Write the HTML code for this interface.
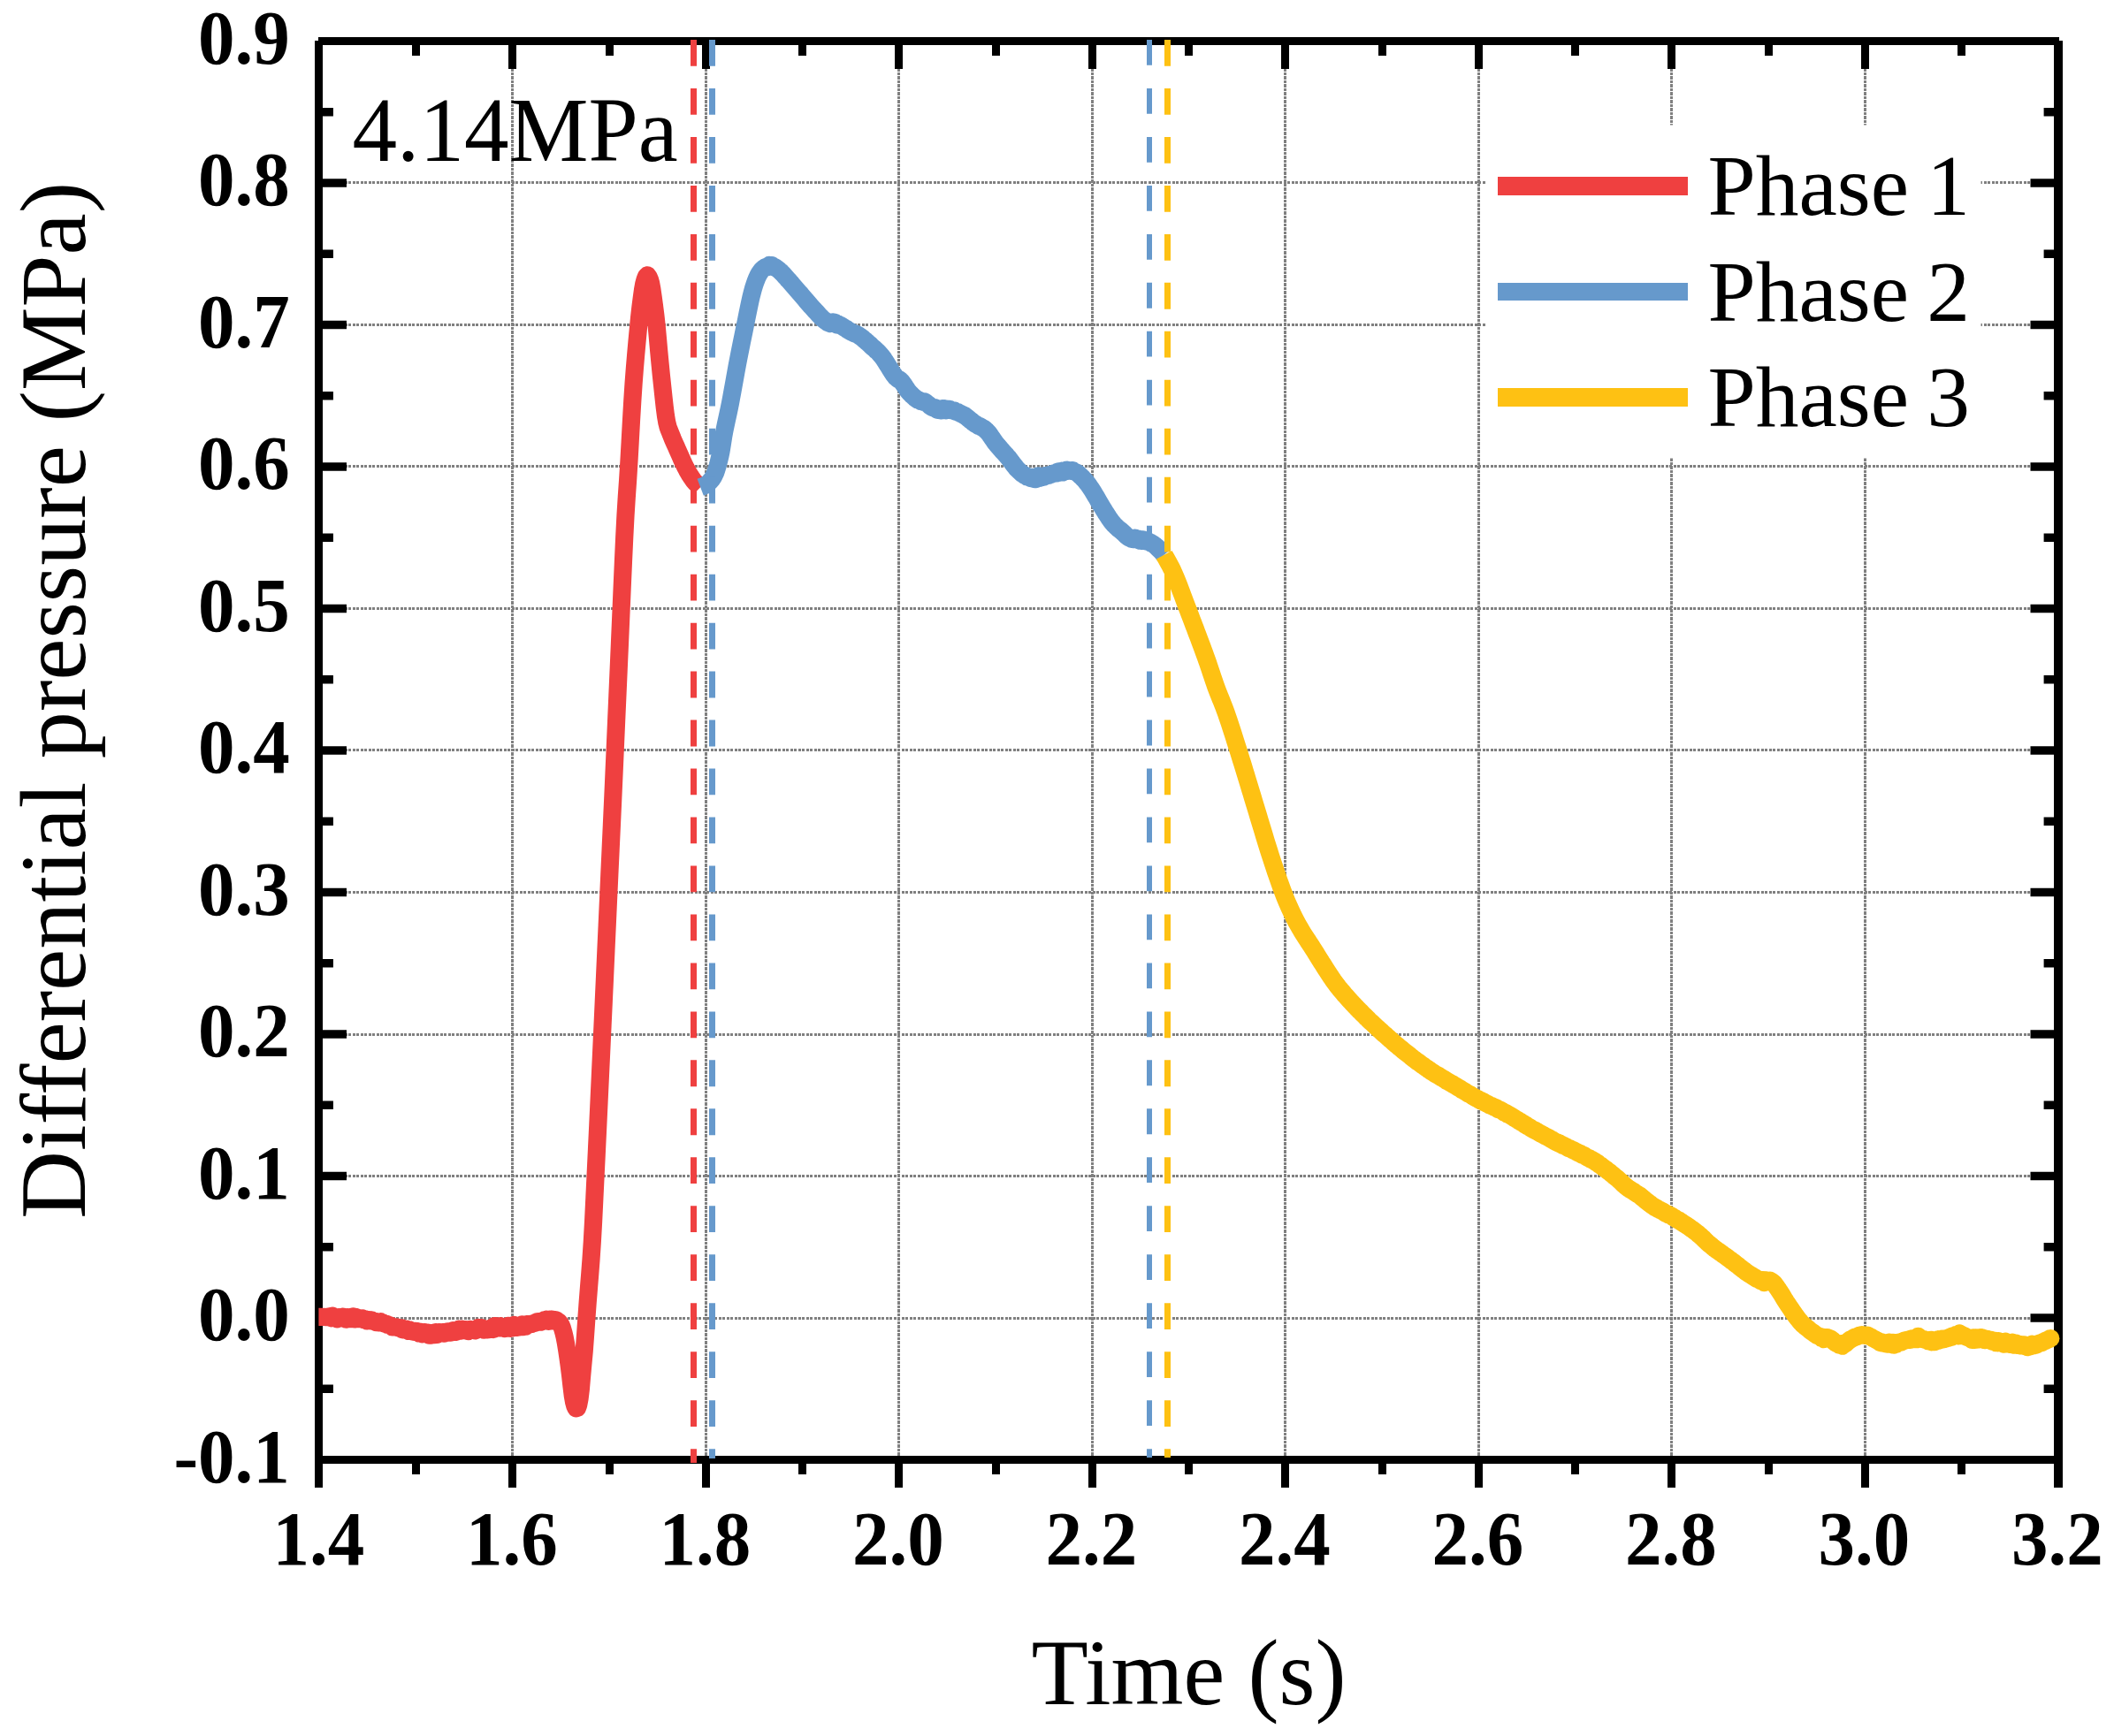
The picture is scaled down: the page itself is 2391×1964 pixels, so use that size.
<!DOCTYPE html>
<html lang="en"><head><meta charset="utf-8"><title>Differential pressure vs time</title>
<style>html,body{margin:0;padding:0;background:#fff;overflow:hidden}svg{display:block}text{font-family:"Liberation Serif",serif;fill:#000}.tk{font-weight:bold;font-size:83px}.lg{font-size:97.5px;word-spacing:-4px}.an{font-size:101.2px}.ax{font-size:106.3px}.ax2{font-size:105.3px}</style></head><body>
<svg width="2391" height="1964" viewBox="0 0 2391 1964">
<rect width="2391" height="1964" fill="#fff"/>
<path d="M392 1491.5H2297M392 1330.5H2297M392 1170.5H2297M392 1009.5H2297M392 848.5H2297M392 688.5H2297M392 527.5H2297M392 367.5H2297M392 206.5H2297" fill="none" stroke="#808080" stroke-width="3" stroke-dasharray="3 2 3 1" stroke-dashoffset="7"/>
<path d="M579.5 78V1647M798.5 78V1647M1016.5 78V1647M1235.5 78V1647M1453.5 78V1647M1672.5 78V1647M1890.5 78V1647M2109.5 78V1647" fill="none" stroke="#808080" stroke-width="3" stroke-dasharray="4 1 3 1" stroke-dashoffset="1"/>
<rect x="1680" y="141.5" width="560.5" height="377" fill="#fff"/>
<path d="M360 46.5H2329M360 1651.5H2329M360.5 46V1683M470.5 1651.5v16.4M470.5 46.5v16.4M579.5 1651.5v31.5M579.5 46.5v31.5M689.5 1651.5v16.4M689.5 46.5v16.4M798.5 1651.5v31.5M798.5 46.5v31.5M907.5 1651.5v16.4M907.5 46.5v16.4M1016.5 1651.5v31.5M1016.5 46.5v31.5M1126.5 1651.5v16.4M1126.5 46.5v16.4M1235.5 1651.5v31.5M1235.5 46.5v31.5M1344.5 1651.5v16.4M1344.5 46.5v16.4M1453.5 1651.5v31.5M1453.5 46.5v31.5M1563.5 1651.5v16.4M1563.5 46.5v16.4M1672.5 1651.5v31.5M1672.5 46.5v31.5M1781.5 1651.5v16.4M1781.5 46.5v16.4M1890.5 1651.5v31.5M1890.5 46.5v31.5M2000.5 1651.5v16.4M2000.5 46.5v16.4M2109.5 1651.5v31.5M2109.5 46.5v31.5M2218.5 1651.5v16.4M2218.5 46.5v16.4" fill="none" stroke="#000" stroke-width="9"/>
<path d="M360.5 1571.25h16.4M2328.0 1571.25h-16.4M360.5 1491.00h31.5M2328.0 1491.00h-31.5M360.5 1410.75h16.4M2328.0 1410.75h-16.4M360.5 1330.50h31.5M2328.0 1330.50h-31.5M360.5 1250.25h16.4M2328.0 1250.25h-16.4M360.5 1170.00h31.5M2328.0 1170.00h-31.5M360.5 1089.75h16.4M2328.0 1089.75h-16.4M360.5 1009.50h31.5M2328.0 1009.50h-31.5M360.5 929.25h16.4M2328.0 929.25h-16.4M360.5 849.00h31.5M2328.0 849.00h-31.5M360.5 768.75h16.4M2328.0 768.75h-16.4M360.5 688.50h31.5M2328.0 688.50h-31.5M360.5 608.25h16.4M2328.0 608.25h-16.4M360.5 528.00h31.5M2328.0 528.00h-31.5M360.5 447.75h16.4M2328.0 447.75h-16.4M360.5 367.50h31.5M2328.0 367.50h-31.5M360.5 287.25h16.4M2328.0 287.25h-16.4M360.5 207.00h31.5M2328.0 207.00h-31.5M360.5 126.75h16.4M2328.0 126.75h-16.4" fill="none" stroke="#000" stroke-width="9.5"/>
<path d="M2328.0 46V1683" fill="none" stroke="#000" stroke-width="10"/>
<path d="M360.4 1489.9L361.7 1489.9 363.0 1489.9 364.3 1489.9 365.6 1489.8 366.9 1490.0 368.2 1490.0 369.5 1490.2 370.8 1489.7 372.1 1489.3 373.4 1489.6 374.7 1491.3 376.0 1488.7 377.3 1489.3 378.6 1490.8 379.9 1491.4 381.2 1492.3 382.5 1491.6 383.8 1490.2 385.1 1490.6 386.4 1491.0 387.7 1489.5 389.0 1491.5 390.3 1491.6 391.6 1492.7 392.9 1490.1 394.2 1490.7 395.5 1491.8 396.8 1492.0 398.1 1489.9 399.4 1489.4 400.7 1492.4 402.0 1489.8 403.3 1491.9 404.6 1490.9 405.9 1492.1 407.2 1492.1 408.5 1491.9 409.8 1491.5 411.1 1493.0 412.4 1493.4 413.7 1492.5 415.0 1494.4 416.3 1494.3 417.6 1493.4 418.9 1494.4 420.2 1493.3 421.5 1494.6 422.8 1494.8 424.1 1495.3 425.4 1496.0 426.7 1495.2 428.0 1496.4 429.3 1496.2 430.6 1495.4 431.9 1496.4 433.2 1496.4 434.5 1497.4 435.8 1497.6 437.1 1497.9 438.4 1499.0 439.7 1499.0 441.0 1499.4 442.3 1500.0 443.6 1501.3 444.9 1501.2 446.2 1501.4 447.5 1501.5 448.8 1501.3 450.1 1502.3 451.4 1502.3 452.7 1502.7 454.0 1502.5 455.3 1504.4 456.6 1504.4 457.9 1503.9 459.2 1504.5 460.5 1503.6 461.8 1505.9 463.1 1504.4 464.4 1505.1 465.7 1506.2 467.0 1506.4 468.3 1506.9 469.6 1505.9 470.9 1507.2 472.2 1506.1 473.5 1508.4 474.8 1506.5 476.1 1507.1 477.4 1509.3 478.7 1508.8 480.0 1507.2 481.3 1507.9 482.6 1509.3 483.9 1507.7 485.2 1510.7 486.5 1508.8 487.8 1510.7 489.1 1509.1 490.4 1507.7 491.7 1510.1 493.0 1507.1 494.3 1509.8 495.6 1507.9 496.9 1507.2 498.2 1507.4 499.5 1508.0 500.8 1507.1 502.1 1508.6 503.4 1508.3 504.7 1506.9 506.0 1506.5 507.3 1507.5 508.6 1507.1 509.9 1507.6 511.2 1505.7 512.5 1505.2 513.8 1506.1 515.1 1507.0 516.4 1505.3 517.7 1505.0 519.0 1503.8 520.3 1504.3 521.6 1505.7 522.9 1503.7 524.2 1504.1 525.5 1504.2 526.8 1504.0 528.1 1505.5 529.4 1506.0 530.7 1504.7 532.0 1504.0 533.3 1504.4 534.6 1504.5 535.9 1504.9 537.2 1505.4 538.5 1503.4 539.8 1503.1 541.1 1501.8 542.4 1503.2 543.7 1503.2 545.0 1502.0 546.3 1503.7 547.6 1504.6 548.9 1504.0 550.2 1504.5 551.5 1504.3 552.8 1504.2 554.1 1503.1 555.4 1502.4 556.7 1502.8 558.0 1504.1 559.3 1500.3 560.6 1500.1 561.9 1501.2 563.2 1502.4 564.5 1502.5 565.8 1500.2 567.1 1502.2 568.4 1502.0 569.7 1502.5 571.0 1503.2 572.3 1502.8 573.6 1500.5 574.9 1499.8 576.2 1502.2 577.5 1502.8 578.8 1501.4 580.1 1502.5 581.4 1499.0 582.7 1501.7 584.0 1501.1 585.3 1501.8 586.6 1499.8 587.9 1501.4 589.2 1499.3 590.5 1498.4 591.8 1501.2 593.1 1500.3 594.4 1500.5 595.7 1498.3 597.0 1498.1 598.3 1498.0 599.6 1498.2 600.9 1498.2 602.2 1497.2 603.5 1497.1 604.8 1497.2 606.1 1495.9 607.4 1495.3 608.7 1495.0 610.0 1495.7 611.3 1495.7 612.6 1495.2 613.9 1494.3 615.2 1493.6 616.5 1494.5 617.8 1492.7 619.1 1494.5 620.4 1494.9 621.7 1492.7 623.0 1494.1 624.3 1492.6 625.6 1494.2 626.9 1493.7 628.2 1493.2 629.5 1493.6 630.8 1494.7 632.1 1495.6 633.4 1497.1 634.7 1499.3 636.0 1502.7 637.3 1507.2 638.6 1512.6 639.9 1519.4 641.2 1527.5 642.5 1536.3 643.8 1545.7 645.1 1555.9 646.4 1567.7 647.7 1578.4 649.0 1585.8 650.3 1590.7 651.6 1593.4 652.9 1592.9 654.2 1589.4 655.5 1582.7 656.8 1572.1 658.1 1557.0 659.4 1542.7 660.7 1528.7 662.0 1511.3 663.3 1492.5 664.6 1474.4 665.9 1457.9 667.2 1441.8 668.5 1424.8 669.8 1405.1 671.1 1381.6 672.4 1354.7 673.7 1327.5 675.0 1300.3 676.3 1272.7 677.6 1244.9 678.9 1217.0 680.2 1189.0 681.5 1160.8 682.8 1132.5 684.1 1104.0 685.4 1075.3 686.7 1046.7 688.0 1018.1 689.3 989.7 690.6 961.5 691.9 933.2 693.2 904.5 694.5 875.3 695.8 845.8 697.1 816.1 698.4 786.5 699.7 756.8 701.0 727.0 702.3 696.6 703.6 666.2 704.9 636.5 706.2 608.2 707.5 583.0 708.8 562.2 710.1 543.4 711.4 522.7 712.7 499.5 714.0 475.8 715.3 453.3 716.6 433.5 717.9 416.5 719.2 401.0 720.5 386.5 721.8 372.6 723.1 359.1 724.4 347.5 725.7 337.6 727.0 328.1 728.3 320.9 729.6 316.1 730.9 313.0 732.2 311.3 733.5 313.1 734.8 315.9 736.1 320.4 737.4 327.4 738.7 336.4 740.0 346.0 741.3 356.2 742.6 368.0 743.9 382.4 745.2 397.1 746.5 410.7 747.8 423.9 749.1 436.3 750.4 448.5 751.7 460.3 753.0 470.5 754.3 478.1 755.6 483.2 756.9 486.7 758.2 489.8 759.5 493.2 760.8 496.4 762.1 499.4 763.4 502.3 764.7 505.2 766.0 508.2 767.3 511.1 768.6 514.1 769.9 517.1 771.2 520.0 772.5 522.8 773.8 525.6 775.1 528.2 776.4 530.7 777.7 533.1 779.0 535.3 780.3 537.5 781.6 539.5 782.9 541.4 784.2 543.3 785.5 544.9 786.8 546.4 788.1 547.7 789.4 549.0 790.7 550.2 792.0 551.5 792.0 551.5" fill="none" stroke="#EF4040" stroke-width="20.2" stroke-linejoin="round" stroke-linecap="butt"/>
<path d="M792.2 551.3L793.5 550.8 794.8 550.3 796.1 549.7 797.4 549.1 798.7 548.4 800.0 547.5 801.3 546.4 802.6 545.0 803.9 543.7 805.2 542.0 806.5 540.1 807.8 537.7 809.1 534.8 810.4 531.1 811.7 526.8 813.0 521.8 814.3 516.4 815.6 510.1 816.9 502.2 818.2 493.8 819.5 486.7 820.8 480.4 822.1 474.4 823.4 468.5 824.7 462.4 826.0 455.9 827.3 449.0 828.6 441.9 829.9 434.7 831.2 427.4 832.5 420.2 833.8 413.1 835.1 406.3 836.4 399.7 837.7 393.2 839.0 386.8 840.3 380.4 841.6 374.1 842.9 367.7 844.2 361.3 845.5 354.8 846.8 348.4 848.1 342.2 849.4 336.4 850.7 331.2 852.0 326.4 853.3 322.3 854.6 318.5 855.9 315.2 857.2 312.3 858.5 309.9 859.8 307.8 861.1 306.1 862.4 304.7 863.7 303.6 865.0 302.7 866.3 301.9 867.6 302.2 868.9 301.0 870.2 299.9 871.5 300.3 872.8 300.1 874.1 301.7 875.4 302.2 876.7 302.3 878.0 303.2 879.3 304.2 880.6 305.2 881.9 306.4 883.2 307.5 884.5 308.8 885.8 310.2 887.1 311.6 888.4 313.1 889.7 314.5 891.0 316.1 892.3 317.4 893.6 319.0 894.9 320.4 896.2 322.0 897.5 323.5 898.8 325.0 900.1 326.5 901.4 328.0 902.7 329.5 904.0 331.0 905.3 332.4 906.6 334.0 907.9 335.5 909.2 337.0 910.5 338.5 911.8 340.1 913.1 341.6 914.4 343.1 915.7 344.6 917.0 346.1 918.3 347.5 919.6 349.0 920.9 350.4 922.2 351.9 923.5 353.2 924.8 354.6 926.1 356.1 927.4 357.5 928.7 358.9 930.0 360.2 931.3 361.2 932.6 362.2 933.9 363.3 935.2 363.7 936.5 365.0 937.8 365.6 939.1 366.0 940.4 364.9 941.7 364.4 943.0 365.8 944.3 364.8 945.6 367.1 946.9 367.5 948.2 366.7 949.5 367.7 950.8 368.0 952.1 368.9 953.4 369.8 954.7 370.5 956.0 371.3 957.3 371.9 958.6 373.1 959.9 373.9 961.2 374.7 962.5 375.2 963.8 376.1 965.1 376.6 966.4 377.3 967.7 377.6 969.0 378.2 970.3 378.9 971.6 379.7 972.9 380.6 974.2 381.5 975.5 382.5 976.8 383.7 978.1 384.7 979.4 385.8 980.7 387.0 982.0 388.2 983.3 389.2 984.6 390.5 985.9 391.8 987.2 393.0 988.5 394.0 989.8 395.2 991.1 396.5 992.4 397.5 993.7 398.9 995.0 400.3 996.3 401.8 997.6 403.4 998.9 405.1 1000.2 407.1 1001.5 409.0 1002.8 411.1 1004.1 413.2 1005.4 415.3 1006.7 417.4 1008.0 419.5 1009.3 421.5 1010.6 423.5 1011.9 425.2 1013.2 426.8 1014.5 427.9 1015.8 429.1 1017.1 429.4 1018.4 430.3 1019.7 431.6 1021.0 433.3 1022.3 435.1 1023.6 437.2 1024.9 439.1 1026.2 441.1 1027.5 442.8 1028.8 444.3 1030.1 445.7 1031.4 447.0 1032.7 448.2 1034.0 449.2 1035.3 450.5 1036.6 451.5 1037.9 452.3 1039.2 452.5 1040.5 453.3 1041.8 454.1 1043.1 454.3 1044.4 454.9 1045.7 454.4 1047.0 455.1 1048.3 456.3 1049.6 457.2 1050.9 458.2 1052.2 459.5 1053.5 460.3 1054.8 461.0 1056.1 461.6 1057.4 461.2 1058.7 461.5 1060.0 463.7 1061.3 464.0 1062.6 463.6 1063.9 464.5 1065.2 462.8 1066.5 462.1 1067.8 464.2 1069.1 462.4 1070.4 464.2 1071.7 463.8 1073.0 463.0 1074.3 462.8 1075.6 464.0 1076.9 464.3 1078.2 464.4 1079.5 464.6 1080.8 465.7 1082.1 466.0 1083.4 466.2 1084.7 467.1 1086.0 467.6 1087.3 468.3 1088.6 468.9 1089.9 469.7 1091.2 470.2 1092.5 471.2 1093.8 472.2 1095.1 473.4 1096.4 474.3 1097.7 475.5 1099.0 476.4 1100.3 477.6 1101.6 478.5 1102.9 479.5 1104.2 480.2 1105.5 481.0 1106.8 481.9 1108.1 482.0 1109.4 482.9 1110.7 483.7 1112.0 484.4 1113.3 485.2 1114.6 486.3 1115.9 487.5 1117.2 488.9 1118.5 490.4 1119.8 492.2 1121.1 494.1 1122.4 496.0 1123.7 497.9 1125.0 499.8 1126.3 501.5 1127.6 503.1 1128.9 504.7 1130.2 506.2 1131.5 507.7 1132.8 509.1 1134.1 510.6 1135.4 512.0 1136.7 513.5 1138.0 514.9 1139.3 516.5 1140.6 517.9 1141.9 519.6 1143.2 521.3 1144.5 523.1 1145.8 524.8 1147.1 526.5 1148.4 528.2 1149.7 529.8 1151.0 531.1 1152.3 532.3 1153.6 533.7 1154.9 534.9 1156.2 535.9 1157.5 536.6 1158.8 537.8 1160.1 538.1 1161.4 539.4 1162.7 539.1 1164.0 539.7 1165.3 540.9 1166.6 541.2 1167.9 539.9 1169.2 540.8 1170.5 542.2 1171.8 542.0 1173.1 541.2 1174.4 538.3 1175.7 540.9 1177.0 539.7 1178.3 540.1 1179.6 538.7 1180.9 539.4 1182.2 538.5 1183.5 537.9 1184.8 537.7 1186.1 537.9 1187.4 537.0 1188.7 536.8 1190.0 536.1 1191.3 535.8 1192.6 535.2 1193.9 535.1 1195.2 535.3 1196.5 533.6 1197.8 534.7 1199.1 534.2 1200.4 532.7 1201.7 534.5 1203.0 533.8 1204.3 533.4 1205.6 531.9 1206.9 531.6 1208.2 532.8 1209.5 532.7 1210.8 532.8 1212.1 532.1 1213.4 532.3 1214.7 533.5 1216.0 533.8 1217.3 534.5 1218.6 535.2 1219.9 536.3 1221.2 537.5 1222.5 538.8 1223.8 539.9 1225.1 541.3 1226.4 542.6 1227.7 544.2 1229.0 545.8 1230.3 547.4 1231.6 549.2 1232.9 551.1 1234.2 553.0 1235.5 555.0 1236.8 557.1 1238.1 559.3 1239.4 561.5 1240.7 563.7 1242.0 566.0 1243.3 568.3 1244.6 570.5 1245.9 572.7 1247.2 574.8 1248.5 576.9 1249.8 579.0 1251.1 581.1 1252.4 583.1 1253.7 585.1 1255.0 587.0 1256.3 588.9 1257.6 590.6 1258.9 592.2 1260.2 593.7 1261.5 594.9 1262.8 596.2 1264.1 597.4 1265.4 598.4 1266.7 599.4 1268.0 600.5 1269.3 601.6 1270.6 602.9 1271.9 604.0 1273.2 605.4 1274.5 606.6 1275.8 607.6 1277.1 608.3 1278.4 608.7 1279.7 609.8 1281.0 609.6 1282.3 610.0 1283.6 608.5 1284.9 610.2 1286.2 610.5 1287.5 609.7 1288.8 611.7 1290.1 610.4 1291.4 612.0 1292.7 610.3 1294.0 611.8 1295.3 612.1 1296.6 612.4 1297.9 612.5 1299.2 612.7 1300.5 613.6 1301.8 614.0 1303.1 614.8 1304.4 615.7 1305.7 616.5 1307.0 617.6 1308.3 618.7 1309.6 620.0 1310.9 621.3 1312.2 622.6 1313.5 624.0 1314.8 625.5 1316.1 627.1 1316.7 627.8" fill="none" stroke="#6699CC" stroke-width="20.2" stroke-linejoin="round" stroke-linecap="butt"/>
<path d="M1316.7 627.8L1318.0 630.2 1319.3 632.4 1320.6 634.7 1321.9 637.1 1323.2 639.5 1324.5 642.0 1325.8 644.6 1327.1 647.4 1328.4 650.3 1329.7 653.4 1331.0 656.6 1332.3 659.8 1333.6 663.2 1334.9 666.6 1336.2 670.1 1337.5 673.5 1338.8 677.0 1340.1 680.5 1341.4 683.9 1342.7 687.3 1344.0 690.7 1345.3 694.1 1346.6 697.6 1347.9 701.0 1349.2 704.4 1350.5 707.8 1351.8 711.2 1353.1 714.7 1354.4 718.1 1355.7 721.5 1357.0 725.0 1358.3 728.5 1359.6 731.9 1360.9 735.4 1362.2 739.0 1363.5 742.6 1364.8 746.2 1366.1 749.9 1367.4 753.7 1368.7 757.6 1370.0 761.5 1371.3 765.4 1372.6 769.3 1373.9 773.1 1375.2 776.7 1376.5 780.2 1377.8 783.6 1379.1 786.9 1380.4 790.1 1381.7 793.3 1383.0 796.6 1384.3 799.9 1385.6 803.3 1386.9 806.9 1388.2 810.7 1389.5 814.5 1390.8 818.4 1392.1 822.4 1393.4 826.4 1394.7 830.4 1396.0 834.5 1397.3 838.7 1398.6 842.8 1399.9 846.9 1401.2 851.0 1402.5 855.2 1403.8 859.4 1405.1 863.6 1406.4 867.8 1407.7 872.1 1409.0 876.3 1410.3 880.6 1411.6 884.9 1412.9 889.2 1414.2 893.4 1415.5 897.7 1416.8 902.0 1418.1 906.3 1419.4 910.6 1420.7 914.9 1422.0 919.2 1423.3 923.5 1424.6 927.8 1425.9 932.1 1427.2 936.4 1428.5 940.7 1429.8 945.0 1431.1 949.3 1432.4 953.6 1433.7 957.8 1435.0 961.9 1436.3 966.0 1437.6 970.0 1438.9 974.0 1440.2 977.9 1441.5 981.8 1442.8 985.7 1444.1 989.5 1445.4 993.3 1446.7 997.0 1448.0 1000.7 1449.3 1004.3 1450.6 1007.8 1451.9 1011.2 1453.2 1014.5 1454.5 1017.7 1455.8 1020.8 1457.1 1023.8 1458.4 1026.8 1459.7 1029.6 1461.0 1032.3 1462.3 1035.1 1463.6 1037.7 1464.9 1040.3 1466.2 1042.8 1467.5 1045.1 1468.8 1047.4 1470.1 1049.6 1471.4 1051.9 1472.7 1054.1 1474.0 1056.2 1475.3 1058.3 1476.6 1060.3 1477.9 1062.3 1479.2 1064.3 1480.5 1066.2 1481.8 1068.2 1483.1 1070.1 1484.4 1072.2 1485.7 1074.2 1487.0 1076.3 1488.3 1078.4 1489.6 1080.5 1490.9 1082.7 1492.2 1084.8 1493.5 1086.8 1494.8 1088.9 1496.1 1090.8 1497.4 1092.9 1498.7 1094.9 1500.0 1096.9 1501.3 1099.0 1502.6 1101.0 1503.9 1103.0 1505.2 1105.0 1506.5 1106.9 1507.8 1108.8 1509.1 1110.6 1510.4 1112.4 1511.7 1114.2 1513.0 1115.9 1514.3 1117.5 1515.6 1119.1 1516.9 1120.6 1518.2 1122.2 1519.5 1123.7 1520.8 1125.3 1522.1 1126.7 1523.4 1128.2 1524.7 1129.7 1526.0 1131.2 1527.3 1132.5 1528.6 1133.9 1529.9 1135.4 1531.2 1136.7 1532.5 1138.1 1533.8 1139.4 1535.1 1140.8 1536.4 1142.2 1537.7 1143.5 1539.0 1144.7 1540.3 1146.1 1541.6 1147.4 1542.9 1148.6 1544.2 1149.9 1545.5 1151.3 1546.8 1152.4 1548.1 1153.8 1549.4 1155.1 1550.7 1156.3 1552.0 1157.4 1553.3 1158.7 1554.6 1159.9 1555.9 1161.1 1557.2 1162.3 1558.5 1163.5 1559.8 1164.8 1561.1 1165.8 1562.4 1167.0 1563.7 1168.3 1565.0 1169.5 1566.3 1170.6 1567.6 1171.6 1568.9 1172.9 1570.2 1174.0 1571.5 1175.2 1572.8 1176.3 1574.1 1177.4 1575.4 1178.6 1576.7 1179.8 1578.0 1180.9 1579.3 1181.9 1580.6 1183.0 1581.9 1184.2 1583.2 1185.3 1584.5 1186.2 1585.8 1187.3 1587.1 1188.5 1588.4 1189.6 1589.7 1190.5 1591.0 1191.6 1592.3 1192.6 1593.6 1193.6 1594.9 1194.6 1596.2 1195.7 1597.5 1196.8 1598.8 1197.9 1600.1 1198.6 1601.4 1199.7 1602.7 1200.8 1604.0 1201.5 1605.3 1202.4 1606.6 1203.4 1607.9 1204.4 1609.2 1205.4 1610.5 1206.2 1611.8 1207.2 1613.1 1208.1 1614.4 1208.9 1615.7 1210.0 1617.0 1210.7 1618.3 1211.8 1619.6 1212.6 1620.9 1213.4 1622.2 1214.3 1623.5 1215.1 1624.8 1215.9 1626.1 1216.5 1627.4 1217.2 1628.7 1218.1 1630.0 1219.0 1631.3 1219.7 1632.6 1220.3 1633.9 1221.3 1635.2 1221.9 1636.5 1223.0 1637.8 1223.7 1639.1 1224.4 1640.4 1225.1 1641.7 1225.8 1643.0 1226.4 1644.3 1227.4 1645.6 1228.1 1646.9 1228.8 1648.2 1229.9 1649.5 1230.5 1650.8 1231.1 1652.1 1231.8 1653.4 1233.0 1654.7 1233.7 1656.0 1234.4 1657.3 1235.2 1658.6 1236.0 1659.9 1236.8 1661.2 1237.6 1662.5 1238.1 1663.8 1239.1 1665.1 1239.6 1666.4 1240.7 1667.7 1241.5 1669.0 1242.0 1670.3 1242.8 1671.6 1243.2 1672.9 1244.4 1674.2 1245.0 1675.5 1245.2 1676.8 1246.1 1678.1 1246.5 1679.4 1247.5 1680.7 1248.2 1682.0 1248.7 1683.3 1249.4 1684.6 1250.3 1685.9 1250.9 1687.2 1251.0 1688.5 1251.9 1689.8 1252.5 1691.1 1252.8 1692.4 1253.4 1693.7 1254.6 1695.0 1255.3 1696.3 1255.4 1697.6 1256.1 1698.9 1256.8 1700.2 1257.7 1701.5 1258.6 1702.8 1258.9 1704.1 1259.6 1705.4 1260.7 1706.7 1261.1 1708.0 1261.8 1709.3 1262.6 1710.6 1263.5 1711.9 1264.1 1713.2 1265.2 1714.5 1266.0 1715.8 1266.6 1717.1 1267.6 1718.4 1268.4 1719.7 1268.9 1721.0 1269.9 1722.3 1270.6 1723.6 1271.4 1724.9 1272.5 1726.2 1273.0 1727.5 1274.0 1728.8 1274.6 1730.1 1275.3 1731.4 1276.4 1732.7 1277.1 1734.0 1277.8 1735.3 1278.5 1736.6 1279.0 1737.9 1279.9 1739.2 1280.5 1740.5 1281.3 1741.8 1282.2 1743.1 1282.7 1744.4 1283.3 1745.7 1284.2 1747.0 1284.9 1748.3 1285.6 1749.6 1286.2 1750.9 1286.9 1752.2 1287.5 1753.5 1288.4 1754.8 1289.3 1756.1 1289.7 1757.4 1290.6 1758.7 1291.4 1760.0 1292.1 1761.3 1292.5 1762.6 1293.4 1763.9 1293.6 1765.2 1294.5 1766.5 1295.0 1767.8 1295.9 1769.1 1296.2 1770.4 1296.8 1771.7 1297.5 1773.0 1298.3 1774.3 1299.1 1775.6 1299.4 1776.9 1300.2 1778.2 1300.8 1779.5 1301.1 1780.8 1302.1 1782.1 1302.7 1783.4 1303.2 1784.7 1304.3 1786.0 1304.3 1787.3 1305.0 1788.6 1306.2 1789.9 1306.8 1791.2 1306.9 1792.5 1307.7 1793.8 1308.6 1795.1 1309.3 1796.4 1310.0 1797.7 1310.5 1799.0 1311.5 1800.3 1311.8 1801.6 1312.9 1802.9 1313.4 1804.2 1314.2 1805.5 1315.3 1806.8 1315.8 1808.1 1316.9 1809.4 1317.9 1810.7 1318.6 1812.0 1319.7 1813.3 1320.7 1814.6 1321.7 1815.9 1322.6 1817.2 1323.6 1818.5 1324.7 1819.8 1325.6 1821.1 1326.6 1822.4 1327.8 1823.7 1328.8 1825.0 1329.8 1826.3 1331.0 1827.6 1332.0 1828.9 1333.0 1830.2 1334.2 1831.5 1335.4 1832.8 1336.5 1834.1 1337.7 1835.4 1339.1 1836.7 1340.3 1838.0 1341.4 1839.3 1342.4 1840.6 1343.5 1841.9 1344.5 1843.2 1345.1 1844.5 1346.2 1845.8 1347.0 1847.1 1347.6 1848.4 1348.6 1849.7 1349.5 1851.0 1350.3 1852.3 1351.2 1853.6 1351.8 1854.9 1352.9 1856.2 1353.8 1857.5 1355.0 1858.8 1356.0 1860.1 1357.1 1861.4 1358.2 1862.7 1359.2 1864.0 1360.3 1865.3 1361.4 1866.6 1362.2 1867.9 1363.4 1869.2 1364.1 1870.5 1365.1 1871.8 1366.1 1873.1 1366.5 1874.4 1367.2 1875.7 1368.1 1877.0 1368.6 1878.3 1369.4 1879.6 1369.9 1880.9 1370.6 1882.2 1371.5 1883.5 1372.5 1884.8 1373.0 1886.1 1373.5 1887.4 1374.4 1888.7 1374.7 1890.0 1375.4 1891.3 1376.2 1892.6 1377.2 1893.9 1377.7 1895.2 1378.5 1896.5 1379.6 1897.8 1380.3 1899.1 1380.8 1900.4 1381.8 1901.7 1382.5 1903.0 1383.6 1904.3 1384.2 1905.6 1385.1 1906.9 1386.0 1908.2 1386.7 1909.5 1387.6 1910.8 1388.6 1912.1 1389.6 1913.4 1390.4 1914.7 1391.3 1916.0 1392.4 1917.3 1393.3 1918.6 1394.3 1919.9 1395.2 1921.2 1396.5 1922.5 1397.6 1923.8 1398.6 1925.1 1399.9 1926.4 1401.0 1927.7 1402.3 1929.0 1403.7 1930.3 1404.9 1931.6 1406.1 1932.9 1407.2 1934.2 1408.3 1935.5 1409.3 1936.8 1410.4 1938.1 1411.4 1939.4 1412.6 1940.7 1413.4 1942.0 1414.5 1943.3 1415.3 1944.6 1416.1 1945.9 1417.2 1947.2 1418.0 1948.5 1419.1 1949.8 1420.0 1951.1 1420.8 1952.4 1421.9 1953.7 1422.7 1955.0 1423.8 1956.3 1424.7 1957.6 1425.6 1958.9 1426.7 1960.2 1427.5 1961.5 1428.5 1962.8 1429.8 1964.1 1430.7 1965.4 1431.5 1966.7 1432.7 1968.0 1433.7 1969.3 1434.7 1970.6 1435.7 1971.9 1436.7 1973.2 1437.6 1974.5 1438.7 1975.8 1439.7 1977.1 1440.5 1978.4 1441.4 1979.7 1442.1 1981.0 1443.0 1982.3 1443.7 1983.6 1444.7 1984.9 1445.2 1986.2 1446.3 1987.5 1447.0 1988.8 1447.3 1990.1 1448.4 1991.4 1449.0 1992.7 1449.5 1994.0 1448.0 1995.3 1451.1 1996.6 1448.3 1997.9 1450.3 1999.2 1448.7 2000.5 1448.9 2001.8 1448.6 2003.1 1449.6 2004.4 1450.2 2005.7 1451.2 2007.0 1452.7 2008.3 1454.4 2009.6 1456.2 2010.9 1458.1 2012.2 1460.1 2013.5 1461.9 2014.8 1463.9 2016.1 1466.1 2017.4 1468.3 2018.7 1470.6 2020.0 1472.6 2021.3 1474.5 2022.6 1476.5 2023.9 1478.4 2025.2 1480.3 2026.5 1482.3 2027.8 1484.2 2029.1 1486.0 2030.4 1487.8 2031.7 1489.7 2033.0 1491.4 2034.3 1493.0 2035.6 1494.6 2036.9 1496.1 2038.2 1497.5 2039.5 1498.8 2040.8 1499.9 2042.1 1501.1 2043.4 1502.1 2044.7 1503.1 2046.0 1504.1 2047.3 1505.2 2048.6 1506.2 2049.9 1507.1 2051.2 1508.1 2052.5 1509.1 2053.8 1509.8 2055.1 1510.8 2056.4 1511.4 2057.7 1511.8 2059.0 1512.1 2060.3 1513.8 2061.6 1512.5 2062.9 1515.1 2064.2 1514.7 2065.5 1513.1 2066.8 1513.1 2068.1 1513.8 2069.4 1514.3 2070.7 1514.7 2072.0 1515.7 2073.3 1516.8 2074.6 1518.0 2075.9 1519.1 2077.2 1519.8 2078.5 1520.2 2079.8 1521.4 2081.1 1520.7 2082.4 1520.2 2083.7 1522.7 2085.0 1521.5 2086.3 1520.6 2087.6 1519.8 2088.9 1518.6 2090.2 1517.4 2091.5 1516.4 2092.8 1515.5 2094.1 1514.8 2095.4 1514.2 2096.7 1513.5 2098.0 1512.7 2099.3 1512.3 2100.6 1512.3 2101.9 1511.4 2103.2 1510.5 2104.5 1510.5 2105.8 1510.1 2107.1 1510.6 2108.4 1510.7 2109.7 1510.6 2111.0 1511.1 2112.3 1510.6 2113.6 1511.5 2114.9 1512.1 2116.2 1512.7 2117.5 1513.5 2118.8 1514.3 2120.1 1514.9 2121.4 1515.6 2122.7 1516.4 2124.0 1517.0 2125.3 1518.0 2126.6 1518.8 2127.9 1519.3 2129.2 1518.5 2130.5 1519.8 2131.8 1519.6 2133.1 1520.3 2134.4 1520.7 2135.7 1518.7 2137.0 1518.6 2138.3 1519.7 2139.6 1521.3 2140.9 1518.8 2142.2 1521.6 2143.5 1519.6 2144.8 1520.6 2146.1 1519.0 2147.4 1518.6 2148.7 1518.9 2150.0 1518.5 2151.3 1517.8 2152.6 1517.5 2153.9 1516.7 2155.2 1516.4 2156.5 1516.0 2157.8 1515.8 2159.1 1515.8 2160.4 1515.8 2161.7 1514.4 2163.0 1515.2 2164.3 1514.7 2165.6 1515.1 2166.9 1514.6 2168.2 1515.2 2169.5 1511.8 2170.8 1514.4 2172.1 1514.2 2173.4 1514.6 2174.7 1515.2 2176.0 1515.2 2177.3 1515.8 2178.6 1516.0 2179.9 1516.4 2181.2 1517.5 2182.5 1516.2 2183.8 1515.9 2185.1 1518.2 2186.4 1517.9 2187.7 1518.2 2189.0 1516.3 2190.3 1516.6 2191.6 1515.7 2192.9 1516.7 2194.2 1515.1 2195.5 1515.4 2196.8 1514.7 2198.1 1515.3 2199.4 1514.5 2200.7 1514.5 2202.0 1514.0 2203.3 1513.8 2204.6 1513.1 2205.9 1512.3 2207.2 1512.7 2208.5 1511.2 2209.8 1511.1 2211.1 1511.1 2212.4 1509.9 2213.7 1510.0 2215.0 1511.5 2216.3 1508.5 2217.6 1509.8 2218.9 1510.0 2220.2 1510.9 2221.5 1511.2 2222.8 1511.9 2224.1 1512.6 2225.4 1513.1 2226.7 1513.6 2228.0 1513.6 2229.3 1514.9 2230.6 1516.0 2231.9 1513.3 2233.2 1515.9 2234.5 1513.3 2235.8 1515.6 2237.1 1515.1 2238.4 1515.5 2239.7 1513.1 2241.0 1514.4 2242.3 1513.5 2243.6 1514.3 2244.9 1516.1 2246.2 1516.0 2247.5 1514.9 2248.8 1516.0 2250.1 1515.7 2251.4 1515.8 2252.7 1517.4 2254.0 1517.9 2255.3 1517.7 2256.6 1516.9 2257.9 1519.2 2259.2 1519.3 2260.5 1517.2 2261.8 1518.6 2263.1 1519.1 2264.4 1519.0 2265.7 1520.2 2267.0 1520.7 2268.3 1517.7 2269.6 1520.2 2270.9 1519.5 2272.2 1519.2 2273.5 1520.9 2274.8 1519.5 2276.1 1518.6 2277.4 1521.6 2278.7 1521.7 2280.0 1519.5 2281.3 1521.5 2282.6 1522.0 2283.9 1522.0 2285.2 1522.3 2286.5 1521.2 2287.8 1521.6 2289.1 1521.4 2290.4 1523.2 2291.7 1523.2 2293.0 1524.2 2294.3 1523.8 2295.6 1522.8 2296.9 1523.1 2298.2 1520.7 2299.5 1521.2 2300.8 1522.2 2302.1 1521.8 2303.4 1521.5 2304.7 1520.7 2306.0 1519.8 2307.3 1519.4 2308.6 1519.2 2309.9 1518.7 2311.2 1517.9 2312.5 1517.3 2313.8 1516.8 2315.1 1516.2 2316.4 1515.6 2317.7 1515.0 2319.0 1514.3 2319.3 1514.2" fill="none" stroke="#FEC113" stroke-width="20.2" stroke-linejoin="round" stroke-linecap="butt"/>
<circle cx="2319.3" cy="1514.2" r="10.1" fill="#FEC113"/>
<path d="M784.5 45V1655" fill="none" stroke="#EF4040" stroke-width="7" stroke-dasharray="29.80 25.17"/>
<path d="M805.5 45V1650" fill="none" stroke="#6699CC" stroke-width="7" stroke-dasharray="29.80 25.17"/>
<path d="M1300.0 45V1649" fill="none" stroke="#6699CC" stroke-width="6" stroke-dasharray="28.80 26.17"/>
<path d="M1320.5 45V1649" fill="none" stroke="#FEC113" stroke-width="7" stroke-dasharray="29.80 25.17"/>
<path d="M1694 210.5H1909" stroke="#EF4040" stroke-width="21" fill="none"/>
<text class="lg" x="1931.5" y="243.3">Phase 1</text>
<path d="M1694 330.0H1909" stroke="#6699CC" stroke-width="20" fill="none"/>
<text class="lg" x="1931.5" y="362.9">Phase 2</text>
<path d="M1694 449.5H1909" stroke="#FEC113" stroke-width="21" fill="none"/>
<text class="lg" x="1931.5" y="481.5">Phase 3</text>
<text class="an" transform="translate(398.5 182) scale(1 1.025)">4.14MPa</text>
<text class="tk" transform="translate(360.4 1770) scale(1 1.04)" text-anchor="middle">1.4</text>
<text class="tk" transform="translate(578.9 1770) scale(1 1.04)" text-anchor="middle">1.6</text>
<text class="tk" transform="translate(797.3 1770) scale(1 1.04)" text-anchor="middle">1.8</text>
<text class="tk" transform="translate(1015.9 1770) scale(1 1.04)" text-anchor="middle">2.0</text>
<text class="tk" transform="translate(1234.4 1770) scale(1 1.04)" text-anchor="middle">2.2</text>
<text class="tk" transform="translate(1452.8 1770) scale(1 1.04)" text-anchor="middle">2.4</text>
<text class="tk" transform="translate(1671.4 1770) scale(1 1.04)" text-anchor="middle">2.6</text>
<text class="tk" transform="translate(1889.8 1770) scale(1 1.04)" text-anchor="middle">2.8</text>
<text class="tk" transform="translate(2108.3 1770) scale(1 1.04)" text-anchor="middle">3.0</text>
<text class="tk" transform="translate(2326.9 1770) scale(1 1.04)" text-anchor="middle">3.2</text>
<text class="tk" transform="translate(327.8 1676.8) scale(1 1.04)" text-anchor="end">-0.1</text>
<text class="tk" transform="translate(327.8 1516.3) scale(1 1.04)" text-anchor="end">0.0</text>
<text class="tk" transform="translate(327.8 1355.8) scale(1 1.04)" text-anchor="end">0.1</text>
<text class="tk" transform="translate(327.8 1195.3) scale(1 1.04)" text-anchor="end">0.2</text>
<text class="tk" transform="translate(327.8 1034.8) scale(1 1.04)" text-anchor="end">0.3</text>
<text class="tk" transform="translate(327.8 874.3) scale(1 1.04)" text-anchor="end">0.4</text>
<text class="tk" transform="translate(327.8 713.8) scale(1 1.04)" text-anchor="end">0.5</text>
<text class="tk" transform="translate(327.8 553.3) scale(1 1.04)" text-anchor="end">0.6</text>
<text class="tk" transform="translate(327.8 392.8) scale(1 1.04)" text-anchor="end">0.7</text>
<text class="tk" transform="translate(327.8 232.3) scale(1 1.04)" text-anchor="end">0.8</text>
<text class="tk" transform="translate(327.8 71.8) scale(1 1.04)" text-anchor="end">0.9</text>
<text class="ax2" x="1344.6" y="1928" text-anchor="middle">Time (s)</text>
<text class="ax" transform="translate(96 792.3) rotate(-90)" text-anchor="middle">Differential pressure (MPa)</text>
</svg></body></html>
